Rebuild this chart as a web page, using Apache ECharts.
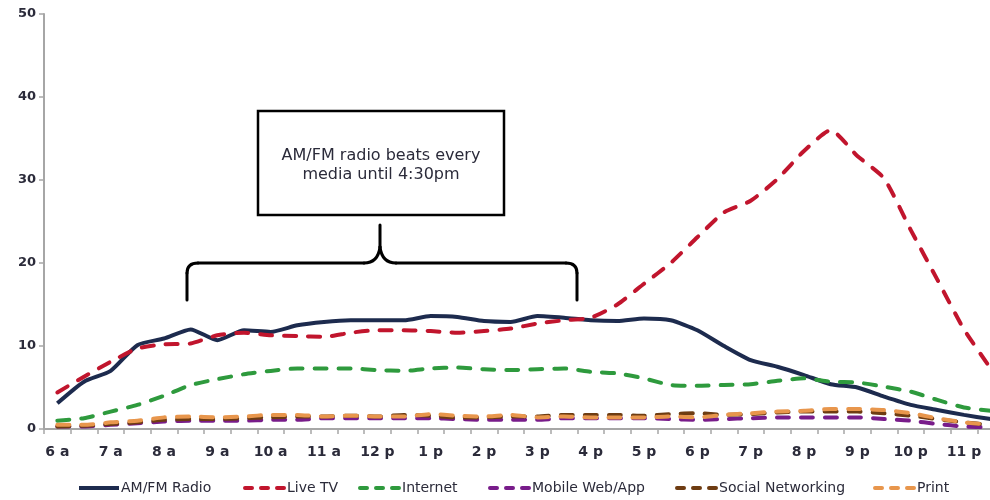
<!DOCTYPE html>
<html>
<head>
<meta charset="utf-8">
<script src="https://cdn.jsdelivr.net/npm/echarts@6/dist/echarts.min.js"></script>
<style>
  html, body { margin: 0; padding: 0; background: #fff; overflow: hidden; }
  body { width: 990px; height: 500px; }
  /* the plot runs a little past the right edge of the page */
  #chart { width: 1004px; height: 500px; }
</style>
</head>
<body>
<div id="chart"></div>
<script>
// Half-hour slots from 6 a to 11:30 p
const slots = [
  '6 a', '6:30 a', '7 a', '7:30 a', '8 a', '8:30 a', '9 a', '9:30 a',
  '10 a', '10:30 a', '11 a', '11:30 a', '12 p', '12:30 p', '1 p', '1:30 p',
  '2 p', '2:30 p', '3 p', '3:30 p', '4 p', '4:30 p', '5 p', '5:30 p',
  '6 p', '6:30 p', '7 p', '7:30 p', '8 p', '8:30 p', '9 p', '9:30 p',
  '10 p', '10:30 p', '11 p', '11:30 p'
];

const seriesNames = ['AM/FM Radio', 'Live TV', 'Internet', 'Mobile Web/App', 'Social Networking', 'Print'];

const amfmRadio = [3.1, 5.7, 7.0, 10.1, 10.9, 12.0, 10.7, 11.9, 11.7, 12.5, 12.9, 13.1,
  13.1, 13.1, 13.6, 13.5, 13.0, 12.9, 13.6, 13.4, 13.1, 13.0, 13.3, 13.1,
  11.9, 10.0, 8.3, 7.5, 6.5, 5.4, 5.0, 3.9, 2.9, 2.3, 1.7, 1.2];

const liveTv = [4.4, 6.3, 8.1, 9.7, 10.2, 10.3, 11.3, 11.6, 11.3, 11.2, 11.1, 11.6,
  11.9, 11.9, 11.8, 11.6, 11.8, 12.1, 12.7, 13.1, 13.4, 15.0, 17.5, 20.0,
  23.1, 26.1, 27.5, 30.1, 33.5, 36.0, 32.9, 30.2, 24.0, 18.0, 12.0, 7.3];

const internet = [1.0, 1.3, 2.1, 2.9, 4.0, 5.3, 6.0, 6.6, 7.0, 7.3, 7.3, 7.3,
  7.1, 7.0, 7.3, 7.4, 7.2, 7.1, 7.2, 7.3, 6.9, 6.7, 6.1, 5.3,
  5.2, 5.3, 5.4, 5.8, 6.1, 5.7, 5.6, 5.1, 4.5, 3.5, 2.6, 2.2];

const mobileWeb = [0.3, 0.3, 0.5, 0.7, 0.9, 1.0, 1.0, 1.0, 1.1, 1.1, 1.3, 1.3,
  1.3, 1.3, 1.3, 1.2, 1.1, 1.1, 1.1, 1.3, 1.3, 1.3, 1.3, 1.2,
  1.1, 1.2, 1.3, 1.4, 1.4, 1.4, 1.4, 1.2, 1.0, 0.6, 0.3, 0.2];

const socialNetworking = [0.3, 0.4, 0.6, 0.8, 1.1, 1.2, 1.2, 1.3, 1.4, 1.5, 1.5, 1.6,
  1.5, 1.7, 1.6, 1.4, 1.4, 1.5, 1.5, 1.7, 1.7, 1.7, 1.6, 1.8,
  1.9, 1.7, 1.8, 2.0, 2.1, 2.1, 2.1, 1.9, 1.6, 1.2, 0.8, 0.5];

const print = [0.5, 0.5, 0.8, 1.0, 1.4, 1.5, 1.4, 1.5, 1.7, 1.7, 1.5, 1.6,
  1.5, 1.5, 1.8, 1.6, 1.5, 1.7, 1.4, 1.5, 1.4, 1.4, 1.4, 1.5,
  1.4, 1.7, 1.9, 2.1, 2.2, 2.4, 2.4, 2.3, 1.9, 1.3, 0.8, 0.5];

const yTicks = { min: 0, max: 50, interval: 10 };

const seriesValues = [amfmRadio, liveTv, internet, mobileWeb, socialNetworking, print];
const seriesColors = ['#1d2b4e', '#c1152d', '#2e9a3d', '#781c8a', '#6e3c12', '#e8964c'];
const seriesDashed = [false, true, true, true, true, true];
const legendLeft = [77, 243, 358, 488, 675, 873];

const FONT = 'DejaVu Sans';
const DASH = [12, 12];

const chart = echarts.init(document.getElementById('chart'), null, { renderer: 'canvas' });

const series = seriesNames.map((name, i) => ({
  name: name,
  type: 'line',
  data: seriesValues[i],
  symbol: 'none',
  showSymbol: false,
  smooth: 0.2,
  animation: false,
  lineStyle: {
    color: seriesColors[i],
    width: 4,
    type: seriesDashed[i] ? DASH : 'solid',
    cap: seriesDashed[i] ? 'round' : 'butt',
    join: 'round'
  },
  itemStyle: { color: seriesColors[i] },
  z: 2 + i
}));

const legends = seriesNames.map((name, i) => ({
  data: [{
    name: name,
    itemStyle: { opacity: 0, borderWidth: 0 },
    lineStyle: {
      width: 4,
      type: seriesDashed[i] ? [7, 9] : 'solid',
      cap: seriesDashed[i] ? 'round' : 'butt'
    }
  }],
  left: legendLeft[i],
  top: 481,
  itemWidth: 40,
  itemHeight: 10,
  itemGap: 0,
  padding: 0,
  textStyle: { fontFamily: FONT, fontSize: 14, color: '#2b2b3a', padding: [0, 0, 0, -3] },
  selectedMode: false
}));

// Brace under the note box
const braceStyle = { fill: 'none', stroke: '#000000', lineWidth: 3, lineCap: 'round' };
const braceLine = (x1, y1, x2, y2) => ({ type: 'line', shape: { x1, y1, x2, y2 }, style: braceStyle, z: 20 });
const braceCurve = (x1, y1, cpx1, cpy1, x2, y2) => ({
  type: 'bezierCurve', shape: { x1, y1, cpx1, cpy1, x2, y2 }, style: braceStyle, z: 20
});

const option = {
  backgroundColor: '#ffffff',
  animation: false,
  grid: { left: 44, right: 0, top: 14, bottom: 71, containLabel: false },
  legend: legends,
  xAxis: {
    type: 'category',
    data: slots,
    boundaryGap: true,
    axisLine: { show: true, lineStyle: { color: '#a6a6a6', width: 2 } },
    axisTick: { show: true, interval: 0, length: 5, lineStyle: { color: '#a6a6a6', width: 1.5 } },
    axisLabel: {
      interval: 1,
      margin: 16,
      fontFamily: FONT,
      fontWeight: 'bold',
      fontSize: 14,
      color: '#2b2b3a'
    },
    splitLine: { show: false }
  },
  yAxis: {
    type: 'value',
    min: yTicks.min,
    max: yTicks.max,
    interval: yTicks.interval,
    axisLine: { show: true, lineStyle: { color: '#a6a6a6', width: 2 } },
    axisTick: { show: true, length: 5, lineStyle: { color: '#a6a6a6', width: 1.5 } },
    axisLabel: {
      margin: 8,
      fontFamily: FONT,
      fontWeight: 'bold',
      fontSize: 13,
      color: '#2b2b3a'
    },
    splitLine: { show: false }
  },
  series: series,
  graphic: [
    {
      type: 'rect',
      shape: { x: 258, y: 111, width: 246, height: 104 },
      style: { fill: '#ffffff', stroke: '#000000', lineWidth: 2.5 },
      z: 20
    },
    {
      type: 'text',
      x: 381,
      y: 165,
      style: {
        text: 'AM/FM radio beats every\nmedia until 4:30pm',
        fontFamily: FONT,
        fontSize: 16,
        lineHeight: 19,
        fill: '#2b2b3a',
        align: 'center',
        verticalAlign: 'middle'
      },
      z: 21
    },
    braceLine(187, 300, 187, 273),
    braceCurve(187, 273, 187, 263, 198, 263),
    braceLine(198, 263, 364, 263),
    braceCurve(364, 263, 378, 263, 380, 247),
    braceLine(380, 247, 380, 225),
    braceCurve(380, 247, 382, 263, 396, 263),
    braceLine(396, 263, 566, 263),
    braceCurve(566, 263, 577, 263, 577, 273),
    braceLine(577, 273, 577, 300)
  ]
};

chart.setOption(option);
</script>
</body>
</html>
